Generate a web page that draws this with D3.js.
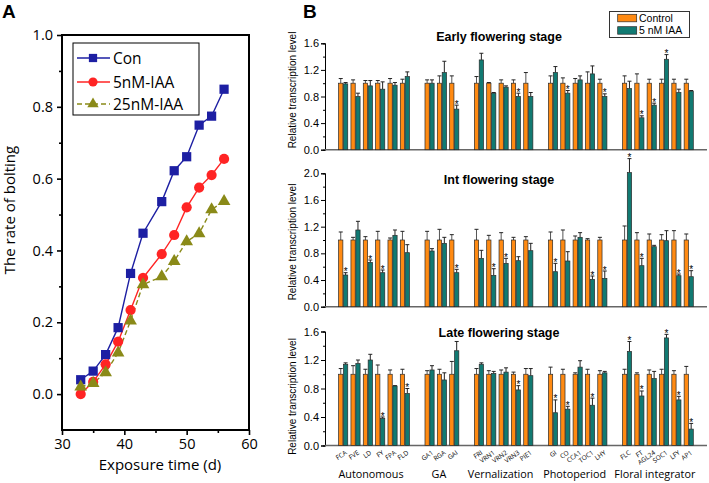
<!DOCTYPE html>
<html><head><meta charset="utf-8">
<script src="https://cdn.jsdelivr.net/npm/d3@7"></script>
<style>body{margin:0;background:#fff}svg{display:block}</style>
</head><body><svg id="c" width="709" height="483"></svg>
<script>
// ---------- Panel A data ----------
const days  = [33,35,37,39,41,43,46,48,50,52,54,56];
const con   = [0.04,0.064,0.11,0.185,0.336,0.448,0.536,0.622,0.661,0.749,0.774,0.849];
const iaa5  = [0.0,0.034,0.083,0.146,0.234,0.324,0.39,0.443,0.52,0.575,0.61,0.655];
const iaa25 = [0.02,0.03,0.06,0.115,0.204,0.305,0.327,0.37,0.425,0.447,0.514,0.537];
const seriesNamesA = ["Con","5nM-IAA","25nM-IAA"];
const yTicksA = [0.0,0.2,0.4,0.6,0.8,1.0];
const xTicksA = [30,40,50,60];

// ---------- Panel B data ----------
const groups = ["Autonomous","GA","Vernalization","Photoperiod","Floral integrator"];
const genes = [["FCA","FVE","LD","FY","FPA","FLD"],["GA1","RGA","GAI"],["FRI","VRN1","VRN2","VRN3","PIE1"],["GI","CO","CCA1","TOC1","LHY"],["FLC","FT","AGL24","SOC1","LFY","AP1"]];
const stages = ["Early flowering stage","Int flowering stage","Late flowering stage"];
const legendB = ["Control","5 nM IAA"];

const earlyCtrl    = [1,1,1,1,1,1, 1,1,1, 1,1,1,1,1, 1,1,1,1,1, 1,1,1,1,1,1];
const earlyCtrlErr = [.07,.05,.04,.04,.07,.06, .05,.11,.11, .10,.01,.05,.05,.16, .11,.08,.07,.17,.06, .11,.14,.06,.06,.06,.06];
const earlyIAA     = [.99,.80,.96,.91,.97,1.10, 1.0,1.16,.61, 1.35,.85,.94,.80,.80, 1.16,.85,1.05,1.14,.80, .92,.48,.67,1.36,.86,.88];
const earlyIAAErr  = [.02,.05,.08,.11,.04,.07, .05,.17,.06, .10,.01,.02,.05,.06, .09,.04,.06,.12,.04, .11,.03,.03,.07,.05,.01];
const earlySig     = ["GAI","VRN3","CO","LHY","FT","AGL24","SOC1"];

const intCtrl    = [1,1,1,1,1,1, 1,1,1, 1,1,1,1,1, 1,1,1,1,1, 1,1,1,1,1,1];
const intCtrlErr = [.12,.04,.05,.13,.03,.13, .13,.16,.08, .16,.07,.11,.04,.05, .12,.15,.06,.02,.04, .21,.11,.09,.08,.14,.09];
const intIAA     = [.475,1.15,.665,.51,1.07,.81, .835,.95,.51, .725,.47,.65,.69,.84, .525,.685,1.04,.41,.425, 2.01,.615,.90,.99,.465,.45];
const intIAAErr  = [.035,.13,.035,.04,.08,.12, .035,.09,.05, .12,.10,.075,.06,.11, .125,.14,.07,.05,.11, .21,.11,.02,.15,.025,.09];
const intSig     = ["FCA","LD","FY","GAI","VRN1","VRN2","GI","TOC1","LHY","FLC","FT","LFY","AP1"];

const lateCtrl    = [1,1,1,1,1,1, 1,1,1, 1,1,1,1,1, 1,1,1,1,1, 1,1,1,1,1,1];
const lateCtrlErr = [.08,.12,.07,.13,.06,.07, .05,.07,.18, .08,.05,.06,.03,.08, .10,.07,.02,.07,.05, .07,.02,.06,.07,.05,.11];
const lateIAA     = [1.14,1.15,1.20,.38,.835,.73, 1.06,.92,1.33, 1.14,1.01,1.03,.78,.98, .46,.51,1.10,.565,1.02, 1.32,.695,.94,1.51,.64,.23];
const lateIAAErr  = [.02,.05,.08,.02,.005,.07, .06,.10,.13, .02,.03,.06,.06,.10, .18,.04,.09,.10,.02, .14,.07,.10,.05,.05,.08];
const lateSig     = ["FY","FLD","VRN3","GI","CO","TOC1","FLC","FT","SOC1","LFY","AP1"];

// ---------- drawing ----------
const svg = d3.select("#c");
const fA = "'Open Sans', sans-serif";
const fB = "'Liberation Sans', Arial, sans-serif";

// ===== Panel A =====
const xA = d3.scaleLinear().domain([30,60]).range([62,249]);
const yA = d3.scaleLinear().domain([-0.1,1.0]).range([430,35]);
const gA = svg.append("g");

gA.append("text").attr("x",2).attr("y",18).attr("font-family",fB).attr("font-weight","bold").attr("font-size",19).text("A");

const axL = gA.append("g").attr("transform","translate(62,0)")
  .call(d3.axisLeft(yA).tickValues(yTicksA).tickSize(5).tickPadding(4).tickFormat(d3.format(".1f")));
const axLm = gA.append("g").attr("transform","translate(62,0)")
  .call(d3.axisLeft(yA).tickValues([0.1,0.3,0.5,0.7,0.9]).tickSize(3).tickFormat(""));
const axB = gA.append("g").attr("transform","translate(0,430)")
  .call(d3.axisBottom(xA).tickValues(xTicksA).tickSize(5).tickPadding(4).tickFormat(d3.format("d")));
const axBm = gA.append("g").attr("transform","translate(0,430)")
  .call(d3.axisBottom(xA).tickValues([35,45,55]).tickSize(3).tickFormat(""));
[axL,axLm,axB,axBm].forEach(a=>{
  a.select(".domain").remove();
  a.selectAll("line").attr("stroke","#000").attr("stroke-width",1.6);
  a.selectAll("text").attr("font-family",fA).attr("font-size",14.5).attr("fill","#000");
});
gA.append("rect").attr("x",xA(30)).attr("y",yA(1.0)).attr("width",xA(60)-xA(30)).attr("height",yA(-0.1)-yA(1.0))
  .attr("fill","none").attr("stroke","#000").attr("stroke-width",2);

gA.append("text").attr("transform","translate(15,210) rotate(-90)").attr("text-anchor","middle")
  .attr("font-family",fA).attr("font-size",15).text("The rate of bolting");
gA.append("text").attr("x",160).attr("y",470).attr("text-anchor","middle")
  .attr("font-family",fA).attr("font-size",15).text("Exposure time (d)");

const seriesA = [
  {name:seriesNamesA[0], vals:con,   color:"#1d1fa3", sym:d3.symbolSquare,  size:85, dash:null},
  {name:seriesNamesA[1], vals:iaa5,  color:"#ff2424", sym:d3.symbolCircle,  size:82, dash:null},
  {name:seriesNamesA[2], vals:iaa25, color:"#8a8a18", sym:d3.symbolTriangle,size:70, dash:"5,3"}
];
const line = d3.line().x(d=>xA(d[0])).y(d=>yA(d[1]));
seriesA.forEach(s=>{
  const pts = days.map((d,i)=>[d,s.vals[i]]);
  gA.append("path").datum(pts).attr("d",line).attr("fill","none").attr("stroke",s.color)
    .attr("stroke-width",1.4).attr("stroke-dasharray",s.dash);
});
seriesA.forEach(s=>{
  const pts = days.map((d,i)=>[d,s.vals[i]]);
  gA.selectAll(null).data(pts).enter().append("path")
    .attr("transform",d=>`translate(${xA(d[0])},${yA(d[1])})`)
    .attr("d",d3.symbol().type(s.sym).size(s.size)).attr("fill",s.color);
});
// legend A
gA.append("rect").attr("x",73).attr("y",43).attr("width",126).attr("height",72).attr("fill","#fff").attr("stroke","#000").attr("stroke-width",1);
seriesA.forEach((s,i)=>{
  const y = [58,82,104][i];
  gA.append("line").attr("x1",77).attr("x2",110).attr("y1",y).attr("y2",y).attr("stroke",s.color).attr("stroke-width",1.4).attr("stroke-dasharray",s.dash);
  gA.append("path").attr("transform",`translate(93,${y})`).attr("d",d3.symbol().type(s.sym).size(s.size*0.8)).attr("fill",s.color);
  gA.append("text").attr("x",113).attr("y",y).attr("dy","0.36em").attr("font-family",fA).attr("font-size",15.5).text(s.name);
});

// ===== Panel B =====
const gB = svg.append("g");
gB.append("text").attr("x",303).attr("y",18).attr("font-family",fB).attr("font-weight","bold").attr("font-size",19).text("B");

const slots = [];
genes.forEach((g,gi)=>{ if(gi>0) slots.push("gap"+gi); g.forEach(n=>slots.push(n)); });
const allGenes = genes.flat();
const xB = d3.scaleBand().domain(slots).range([338.3,693.6]).paddingInner(0.21).paddingOuter(0);
const xS = d3.scaleBand().domain(legendB).range([0,xB.bandwidth()]);
const colB = {"Control":"#ff8a12","5 nM IAA":"#117a72"};

const panels = [
  {title:stages[0], ctrl:earlyCtrl, ctrlErr:earlyCtrlErr, iaa:earlyIAA, iaaErr:earlyIAAErr, sig:earlySig, max:1.6, top:43.3, bot:149.7, titleY:40.5, labY:90},
  {title:stages[1], ctrl:intCtrl,   ctrlErr:intCtrlErr,   iaa:intIAA,   iaaErr:intIAAErr,   sig:intSig,   max:2.0, top:173.3, bot:306.7, titleY:183.5, labY:242},
  {title:stages[2], ctrl:lateCtrl,  ctrlErr:lateCtrlErr,  iaa:lateIAA,  iaaErr:lateIAAErr,  sig:lateSig,  max:1.6, top:331.5, bot:445.5, titleY:337, labY:396.5}
];

panels.forEach((p,pi)=>{
  const y = d3.scaleLinear().domain([0,p.max]).range([p.bot,p.top]);
  const g = gB.append("g");
  const major = d3.range(0,p.max+0.001,0.4);
  const minor = d3.range(0.2,p.max,0.4);
  const a1 = g.append("g").attr("transform","translate(325,0)")
    .call(d3.axisLeft(y).tickValues(major).tickSize(4).tickPadding(2).tickFormat(d3.format(".1f")));
  const a2 = g.append("g").attr("transform","translate(325,0)")
    .call(d3.axisLeft(y).tickValues(minor).tickSize(2).tickFormat(""));
  [a1,a2].forEach(a=>{
    a.select(".domain").attr("stroke","#000").attr("stroke-width",1);
    a.selectAll("line").attr("stroke","#000");
    a.selectAll("text").attr("font-family",fB).attr("font-size",11).attr("fill","#000");
  });
  g.append("line").attr("x1",325).attr("x2",707).attr("y1",p.bot).attr("y2",p.bot).attr("stroke","#666").attr("stroke-width",1.6);
  g.append("text").attr("x",499).attr("y",p.titleY).attr("text-anchor","middle").attr("font-family",fB)
    .attr("font-weight","bold").attr("font-size",12.5).text(p.title);
  g.append("text").attr("transform",`translate(295.5,${p.labY}) rotate(-90)`).attr("text-anchor","middle")
    .attr("font-family",fB).attr("font-size",10).text("Relative transcription level");

  const rows = allGenes.map((n,i)=>({gene:n, vals:[
    {s:legendB[0], v:p.ctrl[i], e:p.ctrlErr[i], sig:false},
    {s:legendB[1], v:p.iaa[i],  e:p.iaaErr[i],  sig:p.sig.includes(n)}]}));
  const gg = g.selectAll(null).data(rows).enter().append("g").attr("transform",d=>`translate(${xB(d.gene)},0)`);
  const bars = gg.selectAll(null).data(d=>d.vals).enter().append("g");
  bars.append("line").attr("x1",d=>xS(d.s)+xS.bandwidth()/2).attr("x2",d=>xS(d.s)+xS.bandwidth()/2)
    .attr("y1",d=>y(d.v)).attr("y2",d=>y(d.v+d.e)).attr("stroke",d=>d.s===legendB[0]?"#555":"#222").attr("stroke-width",1);
  bars.append("line").attr("x1",d=>xS(d.s)+xS.bandwidth()/2-2).attr("x2",d=>xS(d.s)+xS.bandwidth()/2+2)
    .attr("y1",d=>y(d.v+d.e)).attr("y2",d=>y(d.v+d.e)).attr("stroke","#222").attr("stroke-width",1);
  bars.append("rect").attr("x",d=>xS(d.s)+0.3).attr("width",xS.bandwidth()-0.6)
    .attr("y",d=>y(d.v)).attr("height",d=>p.bot-y(d.v))
    .attr("fill",d=>colB[d.s]).attr("stroke","#2a2a2a").attr("stroke-width",0.7);
  bars.filter(d=>d.sig).append("text").attr("x",d=>xS(d.s)+xS.bandwidth()/2).attr("y",d=>y(d.v+d.e)+2.5)
    .attr("text-anchor","middle").attr("font-family",fB).attr("font-size",10).text("*");

  if(pi===2){
    g.selectAll(null).data(allGenes).enter().append("text")
      .attr("transform",d=>`translate(${xB(d)+xB.bandwidth()/2+1.5},${p.bot+4.5}) rotate(-35)`)
      .attr("text-anchor","end").attr("dy","0.7em").attr("font-family",fA).attr("font-size",6.5).text(d=>d);
    genes.forEach((gn,gi)=>{
      const cx = (xB(gn[0]) + xB(gn[gn.length-1]) + xB.bandwidth())/2 - 3;
      g.append("text").attr("x",cx).attr("y",478).attr("text-anchor","middle").attr("font-family",fA)
        .attr("font-size",10.8).text(groups[gi]);
    });
  }
});

// legend B
gB.append("rect").attr("x",609.5).attr("y",11.5).attr("width",80).attr("height",26).attr("fill","#fff").attr("stroke","#333").attr("stroke-width",1);
legendB.forEach((n,i)=>{
  const yy = [14.3,26.7][i];
  gB.append("rect").attr("x",617.7).attr("y",yy).attr("width",19).attr("height",7.5).attr("fill",colB[n]).attr("stroke","#2a2a2a").attr("stroke-width",0.7);
  gB.append("text").attr("x",639).attr("y",yy+3.8).attr("dy","0.36em").attr("font-family",fB).attr("font-size",10.5).text(n);
});
</script></body></html>
